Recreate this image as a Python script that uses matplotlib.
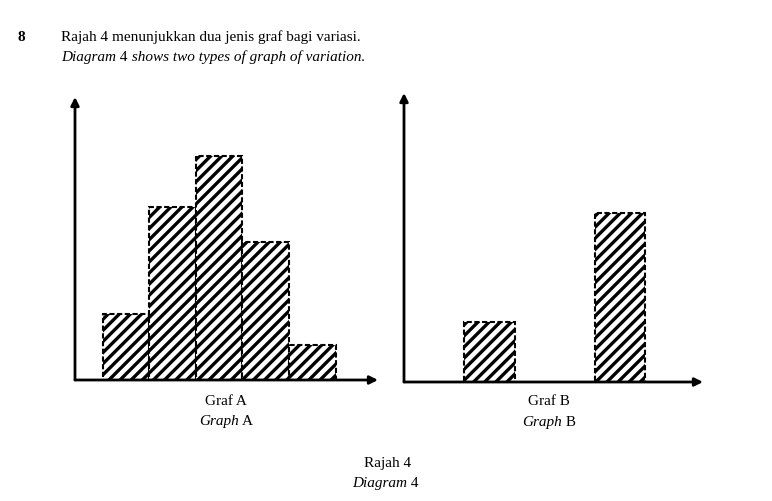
import matplotlib

matplotlib.use("Agg")
import matplotlib.pyplot as plt

W, H = 772, 501

# Graf A: histogram (continuous variation)
classes_a = [1, 2, 3, 4, 5]
freq_a = [1.9, 5.0, 6.5, 4.0, 1.0]

# Graf B: bar chart (discontinuous variation)
classes_b = [1, 2]
freq_b = [1.75, 4.9]

plt.rcParams["font.family"] = ["Liberation Serif", "DejaVu Serif"]
plt.rcParams["hatch.linewidth"] = 2.4
plt.rcParams["hatch.color"] = "black"


def px_axes(fig, left, top, right, bottom):
    return fig.add_axes([left / W, 1 - bottom / H, (right - left) / W, (bottom - top) / H])


def draw_arrow_axes(ax):
    for s in ax.spines.values():
        s.set_visible(False)
    ax.set_xticks([])
    ax.set_yticks([])
    ax.patch.set_alpha(0)
    props = dict(arrowstyle="-|>", lw=2, color="black", mutation_scale=12,
                 shrinkA=0, shrinkB=0)
    ax.annotate("", xy=(0, 1), xytext=(0, 0), xycoords="axes fraction",
                arrowprops=props, zorder=5, annotation_clip=False)
    ax.annotate("", xy=(1, 0), xytext=(0, 0), xycoords="axes fraction",
                arrowprops=props, zorder=5, annotation_clip=False)


def rich_line(fig, x, y, pieces, size=11, ha="left"):
    renderer = fig.canvas.get_renderer()
    texts = []
    for s, style in pieces:
        t = fig.text(0, 1 - y / H, s, fontsize=size, style=style,
                     va="baseline", ha="left")
        texts.append(t)
    widths = [t.get_window_extent(renderer).width for t in texts]
    total = sum(widths)
    start = x - total / 2 if ha == "center" else x
    for t, w in zip(texts, widths):
        t.set_x(start / W)
        start += w


fig = plt.figure(figsize=(W / 100, H / 100), dpi=100)

bar_kw = dict(color="white", edgecolor="black", hatch="///", linewidth=1.5,
              linestyle=(0, (2.5, 1.2)))

ax_a = px_axes(fig, 75, 97, 378, 380)
ax_a.bar(classes_a, freq_a, width=1.0, **bar_kw)
ax_a.set_xlim(-0.09, 6.41)
ax_a.set_ylim(0, 8.2)
draw_arrow_axes(ax_a)

ax_b = px_axes(fig, 404, 93, 703, 382)
ax_b.bar(classes_b, freq_b, width=0.39, **bar_kw)
ax_b.set_xlim(0.345, 2.636)
ax_b.set_ylim(0, 8.38)
draw_arrow_axes(ax_b)

fig.text(18 / W, 1 - 41 / H, "8", fontsize=11, weight="bold", va="baseline")
rich_line(fig, 61, 41, [("Rajah 4 menunjukkan dua jenis graf bagi variasi.", "normal")])
rich_line(fig, 61, 61, [("Diagram", "italic"), (" 4", "normal"),
                        (" shows two types of graph of variation.", "italic")])

rich_line(fig, 226, 405, [("Graf A", "normal")], ha="center")
rich_line(fig, 226, 425, [("Graph", "italic"), (" A", "normal")], ha="center")
rich_line(fig, 549, 405, [("Graf B", "normal")], ha="center")
rich_line(fig, 549, 426, [("Graph", "italic"), (" B", "normal")], ha="center")
rich_line(fig, 388, 467, [("Rajah 4", "normal")], ha="center")
rich_line(fig, 385, 487, [("Diagram", "italic"), (" 4", "normal")], ha="center")

fig.savefig("out.png", dpi=100)
